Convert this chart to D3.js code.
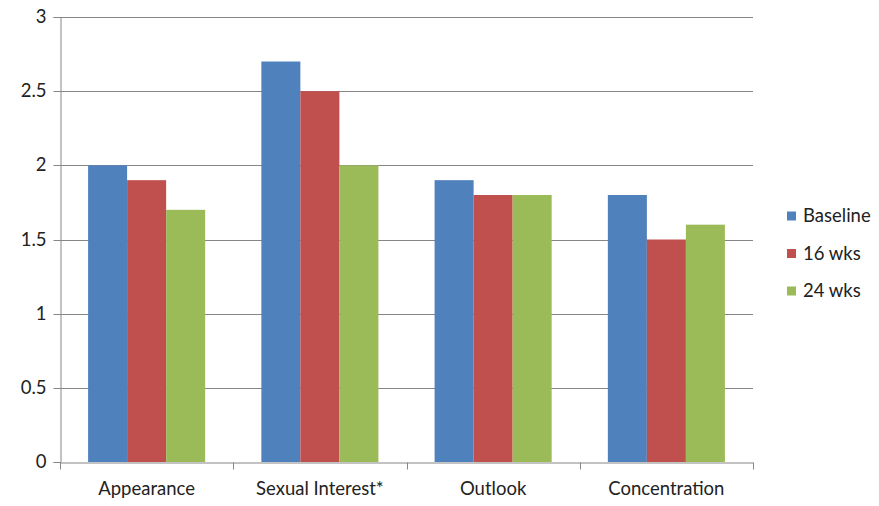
<!DOCTYPE html>
<html lang="en">
<head>
<meta charset="UTF-8">
<title>Chart</title>
<script src="https://d3js.org/d3.v7.min.js"></script>
<style>
    body { margin: 0; background: white; }
    text { font-family: Lato, "Open Sans", sans-serif; fill: #222; }
</style>
</head>
<body>
<script>
    var categories = ["Appearance", "Sexual Interest*", "Outlook", "Concentration"];
    var seriesNames = ["Baseline", "16 wks", "24 wks"];
    var baseline = [2.0, 2.7, 1.9, 1.8];
    var wks16 = [1.9, 2.5, 1.8, 1.5];
    var wks24 = [1.7, 2.0, 1.8, 1.6];
    var yTicks = [0, 0.5, 1, 1.5, 2, 2.5, 3];
    var colors = ["#4F81BD", "#C0504D", "#9BBB59"];

    var series = [baseline, wks16, wks24];

    var width = 879, height = 506;
    var plotLeft = 60, plotRight = 753, plotTop = 17, plotBottom = 462;
    var fontSize = "18.5px";

    var svg = d3.select("body").append("svg")
        .attr("width", width)
        .attr("height", height);

    var x = d3.scaleBand().domain(categories).range([plotLeft, plotRight]).paddingInner(0).paddingOuter(0);
    // bars ~39px each, centred in a 173px category slot
    var x1 = d3.scaleBand().domain(seriesNames).range([0, x.bandwidth()]).paddingOuter(0.72).paddingInner(0);
    var y = d3.scaleLinear().domain([0, 3]).range([plotBottom, plotTop]);

    // gridlines
    svg.append("g").selectAll("line")
        .data(yTicks.filter(function(d) { return d > 0; }))
        .enter().append("line")
        .attr("x1", plotLeft).attr("x2", plotRight)
        .attr("y1", function(d) { return Math.round(y(d)) + 0.5; })
        .attr("y2", function(d) { return Math.round(y(d)) + 0.5; })
        .attr("stroke", "#868686").attr("stroke-width", 1);

    // bars
    categories.forEach(function(c, i) {
        seriesNames.forEach(function(s, j) {
            svg.append("rect")
                .attr("x", x(c) + x1(s))
                .attr("width", x1.bandwidth())
                .attr("y", y(series[j][i]))
                .attr("height", y(0) - y(series[j][i]))
                .attr("fill", colors[j]);
        });
    });

    // y axis
    var yAxis = d3.axisLeft(y).tickValues(yTicks).tickSize(7).tickPadding(7)
        .tickFormat(function(d) { return d; });
    var gy = svg.append("g").attr("transform", "translate(" + (plotLeft + 0.5) + ",0)").call(yAxis);
    gy.select(".domain").attr("stroke", "#868686");
    gy.selectAll(".tick line").attr("stroke", "#868686");
    gy.selectAll(".tick text").style("font-size", fontSize).attr("fill", "#222");
    gy.selectAll(".tick").attr("transform", function(d) { return "translate(0," + (Math.round(y(d)) + 0.5) + ")"; });

    // x axis
    var xAxis = d3.axisBottom(x).tickSize(0).tickPadding(19);
    var gx = svg.append("g").attr("transform", "translate(0," + (plotBottom + 0.5) + ")").call(xAxis);
    gx.select(".domain").attr("stroke", "#868686");
    gx.selectAll(".tick text").style("font-size", fontSize).attr("fill", "#222");
    var bounds = categories.map(function(c) { return x(c); }).concat([plotRight]);
    gx.selectAll(".sep").data(bounds).enter().append("line")
        .attr("x1", function(d) { return Math.round(d) + 0.5; })
        .attr("x2", function(d) { return Math.round(d) + 0.5; })
        .attr("y1", 0).attr("y2", 7)
        .attr("stroke", "#868686");

    // legend
    var legend = svg.append("g");
    seriesNames.forEach(function(s, j) {
        var ly = 216 + j * 37.5;
        legend.append("rect").attr("x", 787).attr("y", ly - 4.5).attr("width", 9).attr("height", 9).attr("fill", colors[j]);
        legend.append("text").attr("x", 803).attr("y", ly).attr("dy", "0.35em")
            .style("font-size", fontSize).text(s);
    });
</script>
</body>
</html>
